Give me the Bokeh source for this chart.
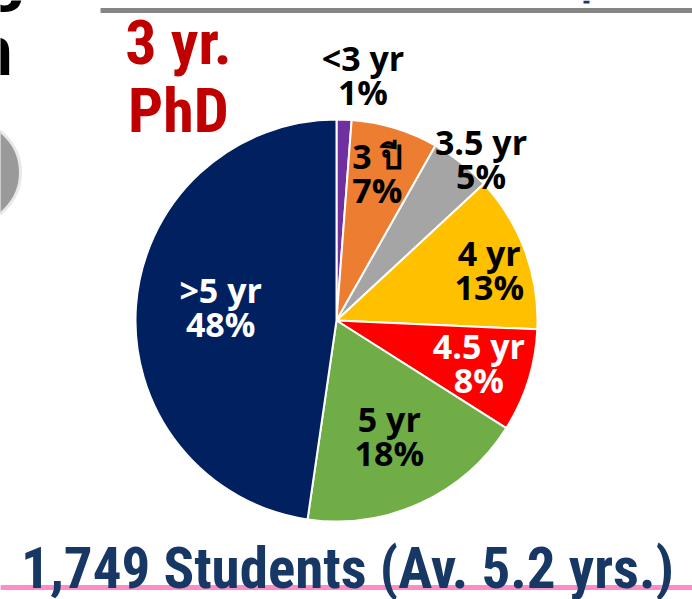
import math
from bokeh.plotting import figure
from bokeh.models import ColumnDataSource, Range1d
from bokeh.core.properties import value
from bokeh.embed import file_html
from bokeh.resources import INLINE

# ---- data ----
categories = ["<3 yr", "3 ปี", "3.5 yr", "4 yr", "4.5 yr", "5 yr", ">5 yr"]
shares = [1.2, 7.0, 4.9, 12.6, 8.3, 18.3, 47.7]
pct_labels = ["1%", "7%", "5%", "13%", "8%", "18%", "48%"]
title_text = "3 yr.\nPhD"
footer_text = "1,749 Students (Av. 5.2 yrs.)"

# ---- style ----
colors = ["#7030A0", "#ED7D31", "#A5A5A5", "#FFC000", "#FF0000", "#70AD47", "#002060"]
label_colors = ["black", "black", "black", "black", "white", "black", "white"]
label_r = [1.227, 0.76, 1.08, 0.80, 0.74, 0.63, 0.58]
label_shift = [4.0, -1.4, 3.4, 2.0, -0.7, 0.0, 2.4]

W, H = 692, 599
p = figure(width=W, height=H, output_backend="svg", toolbar_location=None,
           x_range=Range1d(0, W), y_range=Range1d(0, H),
           min_border=0)
p.axis.visible = False
p.grid.visible = False
p.outline_line_color = None
p.background_fill_color = "white"
p.border_fill_color = "white"

def Y(py):
    return 599 - py

cx, cy, R = 336, Y(320), 201

total = sum(shares)
starts, ends, lx, ly = [], [], [], []
cum = 0.0
for i, s in enumerate(shares):
    a0 = cum / total
    cum += s
    a1 = cum / total
    starts.append(math.pi / 2 - 2 * math.pi * a1)
    ends.append(math.pi / 2 - 2 * math.pi * a0)
    mid = math.degrees(2 * math.pi * (a0 + a1) / 2) + label_shift[i]
    lx.append(cx + label_r[i] * R * math.sin(math.radians(mid)))
    ly.append(cy + label_r[i] * R * math.cos(math.radians(mid)))

src = ColumnDataSource(dict(
    start=starts, end=ends, color=colors,
    lx=lx, ly=ly, text=[c + "\n" + t for c, t in zip(categories, pct_labels)],
    tcolor=label_colors))

# decorations from the slide
p.segment(x0=[100], y0=[Y(10)], x1=[700], y1=[Y(10)], line_color="#868686", line_width=5)
p.quad(left=[583], right=[589], top=[Y(0)], bottom=[Y(3)], fill_color="#1F3864", line_color=None)
p.circle(x=[-32], y=[Y(172)], radius=52, fill_color="#9A9A9A", line_color="#E8E8E8", line_width=3)
p.text(x=[13, 26], y=[Y(50), Y(-28)], text=["n", "g"], text_align="right", text_baseline="alphabetic",
       text_font=value("Liberation Sans"), text_font_style="bold", text_font_size="70px",
       text_color="black")

p.wedge(x=cx, y=cy, radius=R, start_angle="start", end_angle="end",
        direction="anticlock", fill_color="color", line_color="white", line_width=2,
        source=src)

p.text(x="lx", y="ly", text="text", source=src, text_align="center", text_baseline="middle",
       text_font=value("Open Sans"), text_font_style="bold", text_font_size="34px",
       text_color="tcolor", text_line_height=0.74)

p.text(x=[178], y=[Y(76)], text=[title_text], text_align="center", text_baseline="middle",
       text_font=value("'Liberation Sans Narrow', 'Roboto Condensed', Roboto"),
       text_font_style="bold", text_font_size="62px", text_color="#C00000",
       text_line_height=0.94)

p.segment(x0=[0], y0=[Y(587)], x1=[700], y1=[Y(587)], line_color="#FF8CC6", line_width=5)

p.text(x=[347], y=[Y(568)], text=[footer_text], text_align="center", text_baseline="alphabetic",
       text_font=value("'Liberation Sans Narrow', 'Roboto Condensed', Roboto"),
       text_font_style="bold", text_font_size="57px", text_color="#173864")

open("out.html", "w").write(file_html(p, INLINE))
